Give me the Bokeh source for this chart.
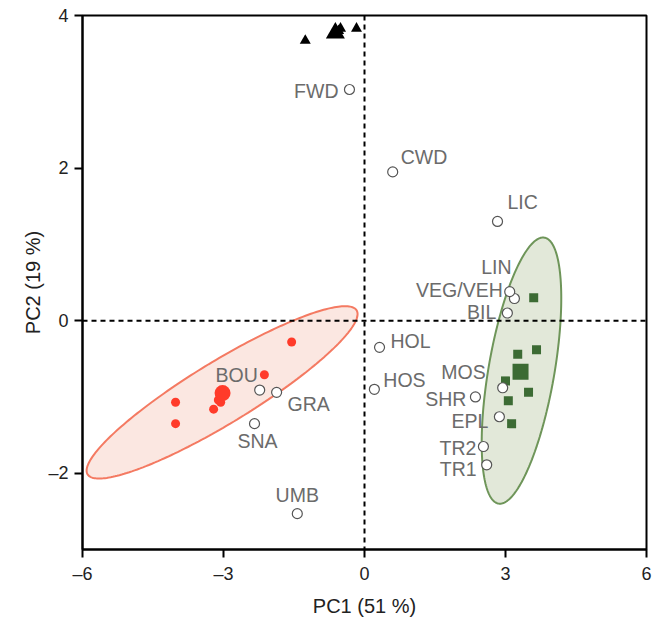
import numpy as np
from bokeh.plotting import figure
from bokeh.models import Range1d, ColumnDataSource, Span, FixedTicker
from bokeh.core.properties import value
from bokeh.embed import file_html
from bokeh.resources import INLINE

# ---- data ----
var_names = ["FWD", "CWD", "LIC", "LIN", "VEG/VEH", "BIL", "HOL", "HOS", "MOS",
             "SHR", "EPL", "TR2", "TR1", "GRA", "BOU", "SNA", "UMB"]
var_x = [-0.32, 0.60, 2.83, 3.19, 3.09, 3.04, 0.32, 0.21, 2.94,
         2.36, 2.87, 2.53, 2.60, -1.87, -2.23, -2.34, -1.43]
var_y = [3.03, 1.95, 1.30, 0.29, 0.38, 0.10, -0.35, -0.90, -0.88,
         -1.00, -1.26, -1.65, -1.89, -0.94, -0.91, -1.35, -2.53]

red_x = [-1.55, -2.13, -3.11, -3.06, -3.21, -4.02, -4.02]
red_y = [-0.28, -0.71, -1.04, -1.07, -1.16, -1.07, -1.35]
red_mean = (-3.02, -0.95)

green_x = [3.60, 3.26, 3.66, 3.00, 3.49, 3.06, 3.13]
green_y = [0.30, -0.44, -0.38, -0.79, -0.94, -1.05, -1.35]
green_mean = (3.32, -0.67)

tri_x = [-1.26, -0.51, -0.55, -0.17]
tri_y = [3.67, 3.83, 3.80, 3.83]
tri_mean = (-0.62, 3.77)

# ellipse: center, major semi-axis vector, minor semi-axis vector (data units)
red_ell = dict(c=(-3.03, -0.94), u=(2.862, 1.075), v=(0.343, -0.347))
green_ell = dict(c=(3.34, -0.655), u=(0.489, 1.743), v=(0.691, -0.073))

x_ticks = [-6, -3, 0, 3, 6]
y_ticks = [-2, 0, 2, 4]

# label placement (pixel offsets, style)
lab_align = ["right", "left", "left", "center", "right", "right", "left", "left", "right",
             "right", "right", "right", "right", "left", "center", "center", "center"]
lab_dx = [-11, 8, 10, -18, -7, -11, 11, 9, -17, -9, -11, -7, -10, 11, -23, 3, 0]
lab_dy = [2, -15, -19, -32, -2, -1, -6, -9, -16, 2, 4, 1, 4, 12, -15, 17, -19]

FONT = "Liberation Sans"

p = figure(width=653, height=612, output_backend="svg", toolbar_location=None,
           x_range=Range1d(-6, 6), y_range=Range1d(-3, 4),
           frame_width=564, frame_height=534,
           min_border_left=82, min_border_right=7, min_border_top=15, min_border_bottom=63)
p.grid.visible = False
p.outline_line_color = "black"
p.outline_line_width = 2
p.outline_line_alpha = 1

def ellipse_pts(e, n=240):
    t = np.linspace(0, 2 * np.pi, n)
    cx, cy = e["c"]; ux, uy = e["u"]; vx, vy = e["v"]
    return cx + ux * np.cos(t) + vx * np.sin(t), cy + uy * np.cos(t) + vy * np.sin(t)

rx, ry = ellipse_pts(red_ell)
p.patch(rx, ry, fill_color="#fbe4de", fill_alpha=0.9, line_color="#f47a62", line_width=2)
gx, gy = ellipse_pts(green_ell)
p.patch(gx, gy, fill_color="#dfe5d5", fill_alpha=0.9, line_color="#6e9559", line_width=2)

p.add_layout(Span(location=0, dimension="height", line_color="black", line_width=2, line_dash="5 4"))
p.add_layout(Span(location=0, dimension="width", line_color="black", line_width=2, line_dash="5 4"))

# group points
p.scatter(red_x, red_y, size=9, color="#ff3b2a", line_color=None)
p.scatter([red_mean[0]], [red_mean[1]], size=16, color="#ff3b2a", line_color=None)
p.scatter(green_x, green_y, marker="square", size=9, color="#3c6b34", line_color=None)
p.scatter([green_mean[0]], [green_mean[1]], marker="square", size=16, color="#3c6b34", line_color=None)
p.scatter(tri_x, tri_y, marker="triangle", size=11, color="black", line_color=None)
p.scatter([tri_mean[0]], [tri_mean[1]], marker="triangle", size=19, color="black", line_color=None)

# variables
src = ColumnDataSource(dict(x=var_x, y=var_y, t=var_names, a=lab_align, dx=lab_dx, dy=lab_dy))
p.scatter("x", "y", source=src, size=10, fill_color="white", line_color="#555555", line_width=1.2)
p.text("x", "y", text="t", source=src, text_align="a", text_baseline="middle",
       x_offset="dx", y_offset="dy", text_font=value(FONT), text_font_size="19.5px",
       text_color="#6b6b6b")

for ax in (p.xaxis[0], p.yaxis[0]):
    ax.axis_line_width = 2
    ax.major_tick_line_width = 2
    ax.major_tick_out = 8
    ax.major_tick_in = 0
    ax.minor_tick_line_color = None
    ax.major_label_text_font = FONT
    ax.major_label_text_font_size = "18px"
    ax.major_label_text_color = "#222222"
    ax.axis_label_text_font = FONT
    ax.axis_label_text_font_size = "20px"
    ax.axis_label_text_font_style = "normal"
    ax.axis_label_text_color = "#222222"

p.xaxis.ticker = FixedTicker(ticks=x_ticks)
p.yaxis.ticker = FixedTicker(ticks=y_ticks)
p.xaxis.major_label_overrides = {t: (str(t) if t >= 0 else "\u2013" + str(-t)) for t in x_ticks}
p.yaxis.major_label_overrides = {t: (str(t) if t >= 0 else "\u2013" + str(-t)) for t in y_ticks}
p.xaxis.axis_label = "PC1 (51 %)"
p.yaxis.axis_label = "PC2 (19 %)"
p.xaxis.major_label_standoff = 6
p.yaxis.major_label_standoff = 6
p.xaxis.axis_label_standoff = 8
p.yaxis.axis_label_standoff = 1

open("out.html", "w").write(file_html(p, INLINE))
